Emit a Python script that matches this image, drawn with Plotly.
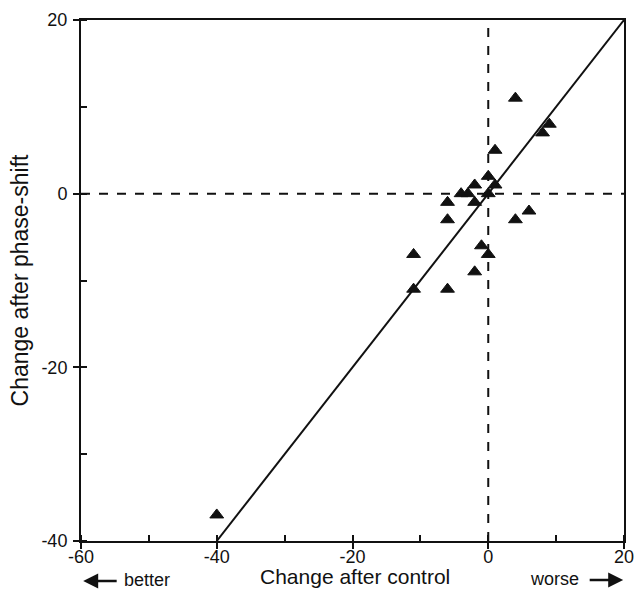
import plotly.graph_objects as go

control_change = [4, 9, 8, 1, 0, 1, -2, -4, -3, 0, -2, -6, -6, 6, 4, -1, 0, -11, -2, -11, -6, -40]
phase_shift_change = [11, 8, 7, 5, 2, 1, 1, 0, 0, 0, -1, -1, -3, -2, -3, -6, -7, -7, -9, -11, -11, -37]

identity_x = [-40, 20]
identity_y = [-40, 20]

x_tickvals = [-60, -40, -20, 0, 20]
x_ticktext = ["-60", "-40", "-20", "0", "20"]
y_tickvals = [-40, -20, 0, 20]
y_ticktext = ["-40", "-20", "0", "20"]

fig = go.Figure()
fig.add_trace(go.Scatter(x=identity_x, y=identity_y, mode="lines",
                         line=dict(color="#111", width=2), showlegend=False))
fig.add_trace(go.Scatter(x=control_change, y=phase_shift_change, mode="markers",
                         marker=dict(symbol="triangle-up", size=12, color="#111",
                                     line=dict(color="#111", width=1)),
                         showlegend=False))

fig.add_shape(type="line", x0=0, x1=0, y0=-40, y1=20, xref="x", yref="y",
              line=dict(color="#111", width=2, dash="dash"))
fig.add_shape(type="line", x0=-60, x1=20, y0=0, y1=0, xref="x", yref="y",
              line=dict(color="#111", width=2, dash="dash"))

font = dict(family="Liberation Sans, Arial, sans-serif", color="#111")
axis_common = dict(ticks="outside", ticklen=6, tickwidth=2, tickcolor="#111",
                   showline=True, linecolor="#111", linewidth=2, mirror=True,
                   showgrid=False, zeroline=False, tickfont=dict(size=18),
                   automargin=False,
                   minor=dict(ticks="inside", dtick=10, ticklen=6, tickwidth=2,
                              tickcolor="#111", showgrid=False))
fig.update_layout(
    width=639, height=589,
    margin=dict(l=81, r=15, t=20, b=48),
    paper_bgcolor="white", plot_bgcolor="white",
    font=dict(**font, size=18),
    xaxis=dict(range=[-60, 20], tickvals=x_tickvals, ticktext=x_ticktext,
               ticklabelstandoff=-8, **axis_common),
    yaxis=dict(range=[-40, 20], tickvals=y_tickvals, ticktext=y_ticktext, **axis_common,
               ticklabelstandoff=2,
               title=dict(text="Change after phase-shift", font=dict(size=23), standoff=6)),
)

fig.add_annotation(text="Change after control", xref="paper", yref="paper",
                   x=0.504, y=-0.068, xanchor="center", yanchor="middle",
                   showarrow=False, font=dict(size=21))
fig.add_annotation(text="better", xref="paper", yref="paper", x=0.076, y=-0.074,
                   xanchor="left", yanchor="middle", showarrow=False, font=dict(size=18))
fig.add_annotation(text="worse", xref="paper", yref="paper", x=0.921, y=-0.072,
                   xanchor="right", yanchor="middle", showarrow=False, font=dict(size=18))
fig.add_annotation(text="", xref="paper", yref="paper", x=0.004, y=-0.077,
                   showarrow=True, ax=35, ay=0, arrowhead=2, arrowsize=1.2,
                   arrowwidth=2.5, arrowcolor="#111")
fig.add_annotation(text="", xref="paper", yref="paper", x=0.9985, y=-0.075,
                   showarrow=True, ax=-35, ay=0, arrowhead=2, arrowsize=1.2,
                   arrowwidth=2.5, arrowcolor="#111")

fig.write_html("out.html", config={"displayModeBar": False},
               post_script="document.body.style.margin='0';document.body.style.overflow='hidden';")
